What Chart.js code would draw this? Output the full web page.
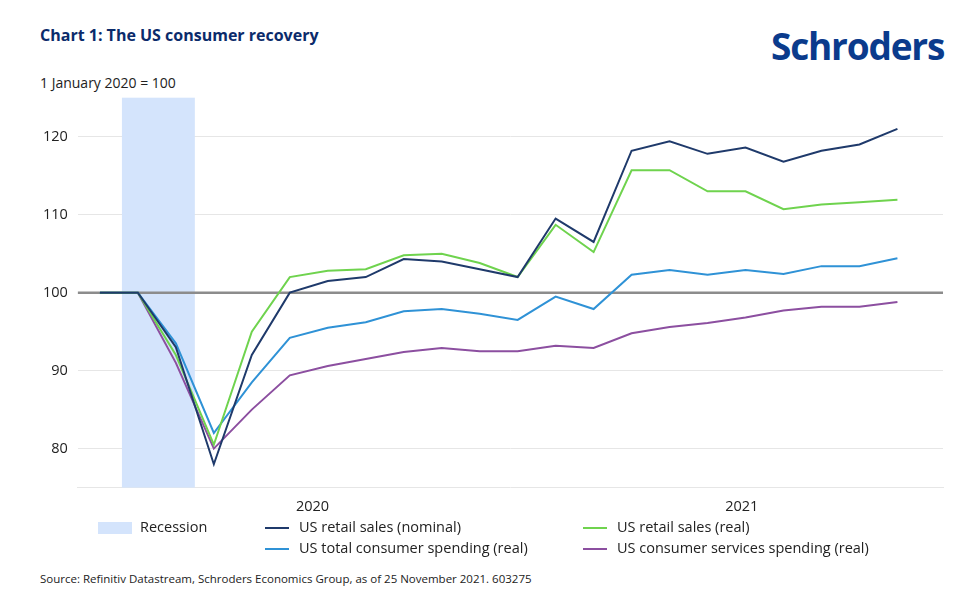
<!DOCTYPE html>
<html lang="en">
<head>
<meta charset="UTF-8">
<title>Chart 1</title>
<script src="https://cdn.jsdelivr.net/npm/chart.js@4"></script>
<style>
  body { margin:0; width:960px; height:609px; background:#fff; font-family:"Open Sans", "Noto Sans", sans-serif; position:relative; overflow:hidden; }
  #title { position:absolute; left:40px; top:24px; font-size:16px; font-weight:bold; color:#0b2b6b; }
  #logo { position:absolute; left:771px; top:20px; font-size:37px; font-weight:bold; color:#0b3b8c; letter-spacing:-1.2px; }
  #unit { position:absolute; left:40px; top:73px; font-size:14px; color:#222; }
  #wrap { position:absolute; left:0; top:79px; width:960px; height:440px; }
  #legend { position:absolute; top:515px; left:0; width:960px; font-size:14.5px; color:#222; }
  .li { position:absolute; white-space:nowrap; }
  .sw { display:inline-block; width:24px; height:2px; vertical-align:middle; margin-right:10px; }
  .box { display:inline-block; width:34px; height:12px; background:#d4e4fc; vertical-align:middle; margin-right:8px; }
  #src { position:absolute; left:40px; top:571px; font-size:11.5px; color:#222; }
</style>
</head>
<body>
<div id="title">Chart 1: The US consumer recovery</div>
<div id="logo">Schroders</div>
<div id="unit">1 January 2020 = 100</div>
<div id="wrap"><canvas id="chart"></canvas></div>
<div id="legend">
  <div class="li" style="left:98px;top:2px"><span class="box"></span>Recession</div>
  <div class="li" style="left:265px;top:2px"><span class="sw" style="background:#1f3a6b"></span>US retail sales (nominal)</div>
  <div class="li" style="left:583px;top:2px"><span class="sw" style="background:#6fd34e"></span>US retail sales (real)</div>
  <div class="li" style="left:265px;top:23px"><span class="sw" style="background:#2f92d6"></span>US total consumer spending (real)</div>
  <div class="li" style="left:583px;top:23px"><span class="sw" style="background:#8c4fa0"></span>US consumer services spending (real)</div>
</div>
<div id="src">Source: Refinitiv Datastream, Schroders Economics Group, as of 25 November 2021. 603275</div>
<script>
const months = ['Jan 20','Feb 20','Mar 20','Apr 20','May 20','Jun 20','Jul 20','Aug 20','Sep 20','Oct 20','Nov 20','Dec 20',
  'Jan 21','Feb 21','Mar 21','Apr 21','May 21','Jun 21','Jul 21','Aug 21','Sep 21','Oct 21'];
const retailNominal = [100,100,93,78,92,100,101.5,102,104.3,104,103,102,109.5,106.5,118.2,119.4,117.8,118.6,116.8,118.2,119,121];
const retailReal = [100,100,92,80.5,95,102,102.8,103,104.8,105,103.8,102,108.7,105.2,115.7,115.7,113,113,110.7,111.3,111.6,111.9];
const totalSpending = [100,100,93.5,82,88.5,94.2,95.5,96.2,97.6,97.9,97.3,96.5,99.5,97.9,102.3,102.9,102.3,102.9,102.4,103.4,103.4,104.4];
const servicesSpending = [100,100,91,80,85,89.4,90.6,91.5,92.4,92.9,92.5,92.5,93.2,92.9,94.8,95.6,96.1,96.8,97.7,98.2,98.2,98.8];
const yearTicks = [{pos:5.6,label:'2020'},{pos:16.9,label:'2021'}];
const yTicks = [80,90,100,110,120];
const recession = [0.58, 2.5];

const toXY = arr => arr.map((v,i) => ({x:i, y:v}));
function ds(label, data, color) {
  return {label, data:toXY(data), borderColor:color, borderWidth:2, pointRadius:0, tension:0, fill:false};
}

const extras = {
  id:'extras',
  beforeDatasetsDraw(chart) {
    const {ctx, chartArea:a, scales:{x,y}} = chart;
    ctx.save();
    ctx.fillStyle = '#d4e4fc';
    const x0 = x.getPixelForValue(recession[0]), x1 = x.getPixelForValue(recession[1]);
    ctx.fillRect(x0, a.top, x1-x0, a.bottom-a.top);
    ctx.strokeStyle = '#8c8c8c'; ctx.lineWidth = 2.5;
    const yb = y.getPixelForValue(100);
    ctx.beginPath(); ctx.moveTo(a.left, yb); ctx.lineTo(a.right, yb); ctx.stroke();
    ctx.restore();
  }
};

new Chart(document.getElementById('chart'), {
  type:'line',
  data:{datasets:[
    ds('US retail sales (nominal)', retailNominal, '#1f3a6b'),
    ds('US retail sales (real)', retailReal, '#6fd34e'),
    ds('US total consumer spending (real)', totalSpending, '#2f92d6'),
    ds('US consumer services spending (real)', servicesSpending, '#8c4fa0')
  ]},
  options:{
    responsive:true, maintainAspectRatio:false, animation:false,
    layout:{padding:{left:33, right:17, top:0, bottom:0}},
    plugins:{legend:{display:false}, tooltip:{enabled:false}},
    scales:{
      x:{type:'linear', min:-0.58, max:22.2,
        afterBuildTicks: s => { s.ticks = yearTicks.map(t => ({value:t.pos})); },
        ticks:{callback:v => (yearTicks.find(t => t.pos === v) || {}).label, color:'#222', font:{size:14.5, family:'Open Sans'}, maxRotation:0},
        grid:{display:false}, border:{display:true, color:'#e6e6e6'}},
      y:{min:75, max:125,
        afterBuildTicks: s => { s.ticks = yTicks.map(v => ({value:v})); },
        ticks:{color:'#222', font:{size:14.5, family:'Open Sans'}, padding:10},
        grid:{color:'#e6e6e6', drawTicks:false}, border:{display:false}}
    }
  },
  plugins:[extras]
});
</script>
</body>
</html>
